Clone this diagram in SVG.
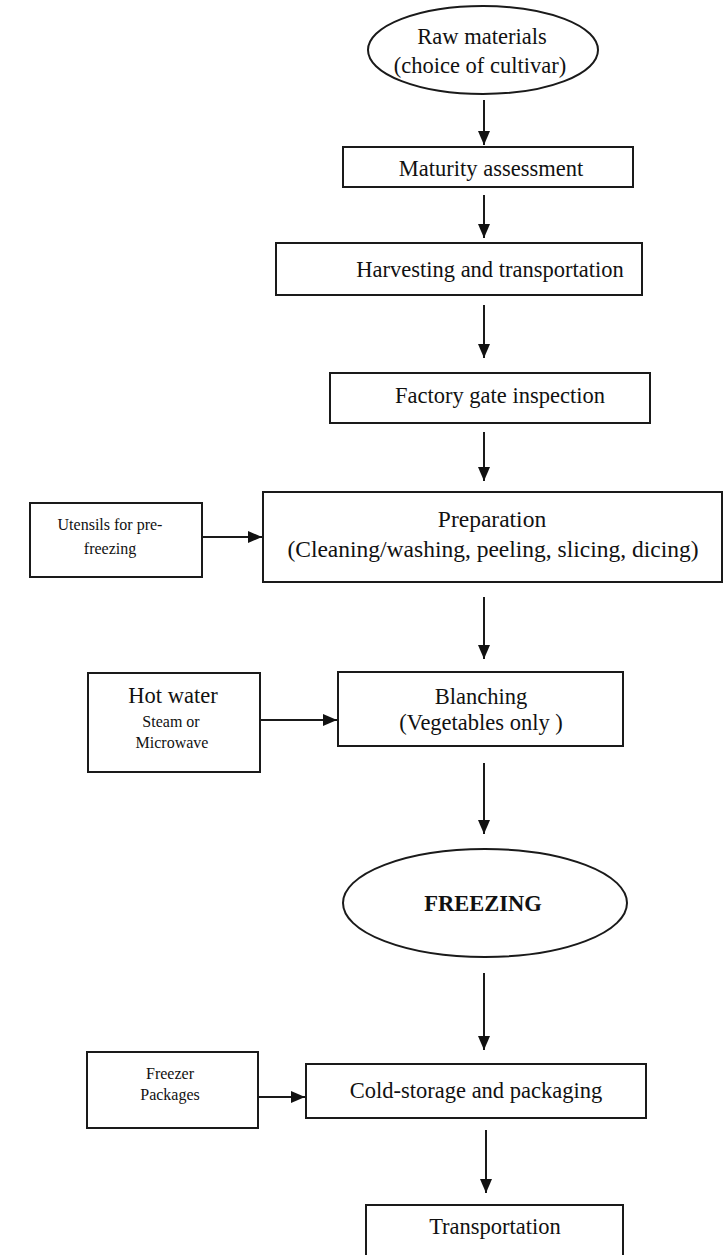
<svg xmlns="http://www.w3.org/2000/svg" width="724" height="1255" viewBox="0 0 724 1255">
<style>
.box{fill:#fff;stroke:#1a1a1a;stroke-width:2}
.t{font-family:"Liberation Serif","Times New Roman",serif;fill:#111;text-anchor:middle}
.big{font-size:22.5px}
.prep{font-size:23.5px}
.sm{font-size:16px}
.b{font-weight:bold;font-size:22.5px}
.c{stroke:#1a1a1a;stroke-width:2;fill:none}
</style>
<defs>
<marker id="ah" markerUnits="userSpaceOnUse" markerWidth="14" markerHeight="14" viewBox="0 0 14 14" refX="14" refY="7" orient="auto">
<path d="M0,1 L14,7 L0,13 Z" fill="#111"/>
</marker>
</defs>
<rect width="724" height="1255" fill="#fff"/>
<g id="raw"><ellipse class="box" cx="483" cy="50" rx="115" ry="44"/><text class="t big" x="482" y="44">Raw materials</text><text class="t big" x="480" y="73">(choice of cultivar)</text></g>
<g id="maturity"><rect class="box" x="343" y="147" width="290" height="40"/><text class="t big" x="491" y="176">Maturity assessment</text></g>
<g id="harvest"><rect class="box" x="276" y="243" width="366" height="52"/><text class="t big" x="490" y="277">Harvesting and transportation</text></g>
<g id="factory"><rect class="box" x="330" y="373" width="320" height="50"/><text class="t big" x="500" y="403">Factory gate inspection</text></g>
<g id="utensils"><rect class="box" x="30" y="503" width="172" height="74"/><text class="t sm" x="110" y="530">Utensils for pre-</text><text class="t sm" x="110" y="554">freezing</text></g>
<g id="prep"><rect class="box" x="263" y="492" width="459" height="90"/><text class="t prep" x="492" y="527">Preparation</text><text class="t prep" x="493" y="557">(Cleaning/washing, peeling, slicing, dicing)</text></g>
<g id="hotwater"><rect class="box" x="88" y="673" width="172" height="99"/><text class="t big" x="173" y="703">Hot water</text><text class="t sm" x="171" y="727">Steam or</text><text class="t sm" x="172" y="748">Microwave</text></g>
<g id="blanch"><rect class="box" x="338" y="672" width="285" height="74"/><text class="t big" x="481" y="704">Blanching</text><text class="t big" x="481" y="730">(Vegetables only )</text></g>
<g id="freezing"><ellipse class="box" cx="485" cy="903" rx="142" ry="54"/><text class="t b" x="483" y="911">FREEZING</text></g>
<g id="freezer"><rect class="box" x="87" y="1052" width="171" height="76"/><text class="t sm" x="170" y="1079">Freezer</text><text class="t sm" x="170" y="1100">Packages</text></g>
<g id="cold"><rect class="box" x="306" y="1064" width="340" height="54"/><text class="t big" x="476" y="1098">Cold-storage and packaging</text></g>
<g id="transport"><rect class="box" x="366" y="1205" width="257" height="70"/><text class="t big" x="495" y="1234">Transportation</text></g>
<g id="connectors">
<line class="c" x1="484" y1="100" x2="484" y2="145" marker-end="url(#ah)"/>
<line class="c" x1="484" y1="195" x2="484" y2="238" marker-end="url(#ah)"/>
<line class="c" x1="484" y1="305" x2="484" y2="358" marker-end="url(#ah)"/>
<line class="c" x1="484" y1="432" x2="484" y2="481" marker-end="url(#ah)"/>
<line class="c" x1="202" y1="537" x2="262" y2="537" marker-end="url(#ah)"/>
<line class="c" x1="484" y1="597" x2="484" y2="659" marker-end="url(#ah)"/>
<line class="c" x1="260" y1="720" x2="337" y2="720" marker-end="url(#ah)"/>
<line class="c" x1="484" y1="763" x2="484" y2="834" marker-end="url(#ah)"/>
<line class="c" x1="484" y1="973" x2="484" y2="1050" marker-end="url(#ah)"/>
<line class="c" x1="258" y1="1097" x2="305" y2="1097" marker-end="url(#ah)"/>
<line class="c" x1="486" y1="1130" x2="486" y2="1193" marker-end="url(#ah)"/>
</g>
</svg>
